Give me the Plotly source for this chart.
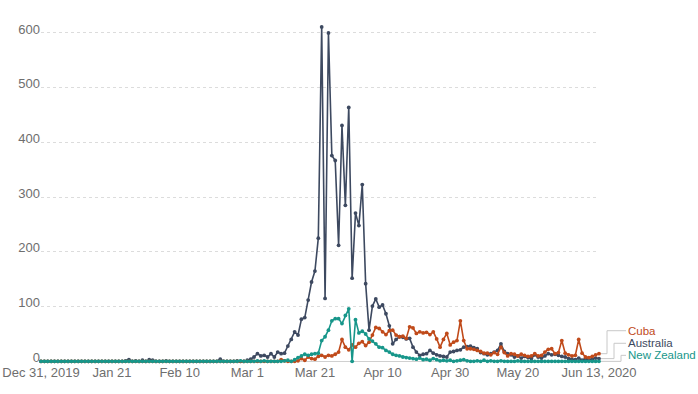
import pandas as pd
import plotly.graph_objects as go

dates = pd.date_range("2019-12-31", "2020-06-13", freq="D")

australia = [
    0, 0, 0, 0, 0, 0, 0, 0, 0, 0,
    0, 0, 0, 0, 0, 0, 0, 0, 0, 0,
    0, 0, 0, 0, 0, 1, 3, 0, 1, 0,
    2, 0, 3, 2, 0, 0, 0, 1, 0, 0,
    0, 0, 0, 0, 0, 0, 0, 0, 0, 0,
    0, 0, 0, 4, 0, 0, 0, 0, 1, 0,
    0, 2, 4, 8, 14, 10, 11, 8, 14, 8,
    17, 14, 15, 28, 40, 54, 48, 77, 80, 112,
    145, 165, 225, 611, 115, 600, 376, 367, 212, 431,
    285, 464, 152, 271, 248, 323, 142, 57, 101, 114,
    99, 103, 87, 65, 32, 40, 45, 44, 41, 42,
    26, 17, 11, 13, 14, 20, 15, 12, 10, 9,
    8, 17, 18, 20, 21, 26, 27, 28, 25, 23,
    16, 14, 12, 14, 17, 20, 32, 18, 14, 12,
    8, 10, 6, 9, 7, 5, 12, 8, 6, 10,
    14, 12, 13, 11, 9, 8, 5, 4, 3, 6,
    2, 5, 3, 4, 6, 5,
]

cuba = [
    0, 0, 0, 0, 0, 0, 0, 0, 0, 0,
    0, 0, 0, 0, 0, 0, 0, 0, 0, 0,
    0, 0, 0, 0, 0, 0, 0, 0, 0, 0,
    0, 0, 0, 0, 0, 0, 0, 0, 0, 0,
    0, 0, 0, 0, 0, 0, 0, 0, 0, 0,
    0, 0, 0, 0, 0, 0, 0, 0, 0, 0,
    0, 0, 0, 0, 0, 0, 0, 0, 0, 0,
    0, 3, 1, 0, 0, 0, 1, 5, 2, 8,
    5, 4, 9, 11, 8, 11, 10, 13, 17, 40,
    26, 21, 30, 26, 33, 36, 29, 35, 48, 62,
    60, 54, 49, 56, 57, 48, 45, 46, 42, 63,
    61, 51, 54, 52, 53, 49, 54, 41, 26, 40,
    51, 30, 35, 38, 74, 38, 23, 23, 22, 20,
    18, 15, 15, 12, 16, 13, 26, 16, 10, 14,
    13, 10, 13, 11, 9, 10, 14, 10, 11, 17,
    22, 23, 14, 16, 38, 15, 12, 10, 11, 40,
    15, 8, 7, 9, 12, 14,
]

new_zealand = [
    0, 0, 0, 0, 0, 0, 0, 0, 0, 0,
    0, 0, 0, 0, 0, 0, 0, 0, 0, 0,
    0, 0, 0, 0, 0, 0, 0, 0, 0, 0,
    0, 0, 0, 0, 0, 0, 0, 0, 0, 0,
    0, 0, 0, 0, 0, 0, 0, 0, 0, 0,
    0, 0, 0, 0, 0, 0, 0, 0, 0, 1,
    0, 0, 0, 0, 1, 0, 1, 0, 0, 0,
    0, 0, 1, 2, 0, 3, 7, 10, 13, 11,
    13, 14, 15, 38, 45, 57, 74, 78, 78, 69,
    84, 96, 0, 76, 52, 55, 50, 41, 37, 32,
    26, 25, 20, 17, 13, 11, 10, 8, 7, 6,
    5, 4, 6, 3, 4, 2, 5, 3, 1, 2,
    1, 2, 0, 1, 2, 3, 1, 0, 0, 1,
    0, 2, 0, 1, 0, 0, 1, 0, 0, 0,
    0, 1, 0, 0, 0, 0, 0, 0, 0, 0,
    0, 0, 0, 0, 0, 0, 0, 0, 0, 0,
    0, 0, 0, 0, 0, 0,
]

tick_dates = ["2019-12-31", "2020-01-21", "2020-02-10", "2020-03-01", "2020-03-21",
              "2020-04-10", "2020-04-30", "2020-05-20", "2020-06-13"]
tick_labels = ["Dec 31, 2019", "Jan 21", "Feb 10", "Mar 1", "Mar 21",
               "Apr 10", "Apr 30", "May 20", "Jun 13, 2020"]
y_ticks = [0, 100, 200, 300, 400, 500, 600]
y_range = [-3, 620]

series_names = ["Australia", "Cuba", "New Zealand"]
series_values = [australia, cuba, new_zealand]
series_colors = ["#3d4960", "#c04a1a", "#17968a"]

# direct labels (Datawrapper-style): label level in data units, connector elbow offset in px
label_order = ["Cuba", "Australia", "New Zealand"]
label_levels = {"Cuba": 56, "Australia": 33, "New Zealand": 11}
elbow_px = {"Cuba": 8, "Australia": 15, "New Zealand": 22}

fig = go.Figure()
for name, vals, col in zip(series_names, series_values, series_colors):
    fig.add_trace(go.Scatter(
        x=dates, y=vals, name=name, mode="lines+markers",
        line=dict(color=col, width=1.6),
        marker=dict(color=col, size=3.8),
        cliponaxis=False, showlegend=False,
    ))


def to_paper(v):
    return (v - y_range[0]) / (y_range[1] - y_range[0])


last_date = dates[-1]
color_of = dict(zip(series_names, series_colors))
value_of = dict(zip(series_names, series_values))
line_style = dict(color="#c8c8c8", width=1)
for name in label_order:
    lv = to_paper(label_levels[name])
    end = to_paper(value_of[name][-1])
    ex = elbow_px[name]
    path = f"M2,{end} L{ex},{end} L{ex},{lv} L27,{lv}"
    fig.add_shape(type="path", xref="paper", yref="paper", xsizemode="pixel", xanchor=1,
                  path=path, line=line_style)
    fig.add_annotation(x=1, y=lv, xref="paper", yref="paper", text=name, showarrow=False,
                       xanchor="left", yanchor="middle", xshift=27,
                       font=dict(color=color_of[name], size=11.5,
                                 family="Liberation Sans, Arial, sans-serif"))

fig.update_layout(
    width=698, height=394,
    margin=dict(l=41, r=99, t=22, b=31),
    plot_bgcolor="white", paper_bgcolor="white",
    font=dict(family="Liberation Sans, Arial, sans-serif", size=13, color="#6e6e6e"),
    xaxis=dict(type="date", range=[dates[0], dates[-1]], tickvals=tick_dates,
               ticktext=tick_labels, showgrid=False, showline=False, zeroline=False,
               ticks="", automargin=False, tickfont=dict(size=13, color="#6e6e6e")),
    yaxis=dict(range=y_range, tickvals=y_ticks, showgrid=True, gridcolor="#dcdcdc",
               griddash="dot", gridwidth=1, zeroline=True, zerolinecolor="#d0d0d0",
               zerolinewidth=1, showline=False, ticks="", automargin=False,
               ticklabelshift=-4, tickfont=dict(size=13, color="#6e6e6e")),
    hovermode=False,
)

fig.write_html("out.html", config={"displayModeBar": False},
               post_script="document.body.style.margin='0px';")
